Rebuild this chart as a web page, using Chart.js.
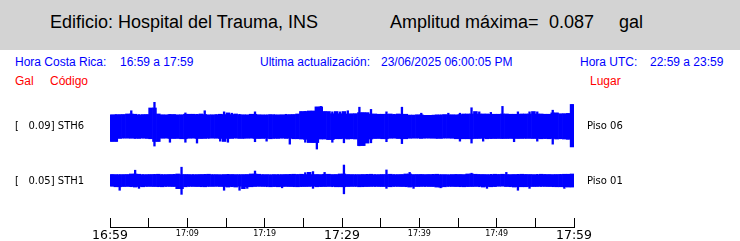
<!DOCTYPE html>
<html><head><meta charset="utf-8">
<script src="https://cdn.jsdelivr.net/npm/chart.js@4.4.0/dist/chart.umd.min.js"></script>
<style>
html,body{margin:0;padding:0;background:#fff;}
#wrap{position:relative;width:740px;height:241px;overflow:hidden;background:#fff;}
#hdr{position:absolute;left:0;top:0;width:740px;height:50px;background:#d3d3d3;}
.t{position:absolute;white-space:pre;font-family:'Liberation Sans',Arial,sans-serif;}
.big{font-size:18px;line-height:20px;top:12px;color:#000;}
.info{font-size:12px;line-height:14px;top:54.5px;color:#0000ff;}
.red{font-size:12px;line-height:14px;top:73.8px;color:#ff0000;}
.lab{position:absolute;white-space:pre;font-family:'DejaVu Sans',sans-serif;font-size:10px;line-height:12px;color:#000;}
canvas{position:absolute;left:0;top:0;}
</style></head>
<body>
<div id="wrap">
  <div id="hdr"></div>
  <span class="t big" style="left:50px">Edificio: Hospital del Trauma, INS</span>
  <span class="t big" style="left:390px">Amplitud máxima=</span>
  <span class="t big" style="left:549px">0.087</span>
  <span class="t big" style="left:619px">gal</span>
  <span class="t info" style="left:15px">Hora Costa Rica:</span>
  <span class="t info" style="left:120px">16:59 a 17:59</span>
  <span class="t info" style="left:260px">Ultima actualización:</span>
  <span class="t info" style="left:381px">23/06/2025 06:00:05 PM</span>
  <span class="t info" style="left:580px">Hora UTC:</span>
  <span class="t info" style="left:650px">22:59 a 23:59</span>
  <span class="t red" style="left:15px">Gal</span>
  <span class="t red" style="left:50px">Código</span>
  <span class="t red" style="left:590px">Lugar</span>
  <canvas id="c" width="740" height="241"></canvas>
  <div id="labels"></div>
</div>
<script>
// ---- data (amplitudes in gal, envelope per 0.5-minute bin) ----
const spanMinutes = 60;
const binMinutes = 0.5;
const tickLabels = ['16:59','17:09','17:19','17:29','17:39','17:49','17:59'];
const channels = ['STH6','STH1'];
const peaks = ['0.09','0.05'];
const places = ['Piso 06','Piso 01'];

const sth6Up = [
0.043,0.045,0.041,0.044,0.046,0.059,0.042,0.045,0.040,0.044,
0.068,0.090,0.046,0.043,0.041,0.045,0.044,0.040,0.043,0.051,
0.045,0.042,0.046,0.044,0.059,0.041,0.043,0.045,0.042,0.055,
0.044,0.050,0.042,0.046,0.043,0.041,0.045,0.055,0.043,0.040,
0.044,0.042,0.045,0.041,0.043,0.046,0.042,0.044,0.046,0.055,
0.057,0.055,0.057,0.072,0.075,0.055,0.046,0.055,0.047,0.055,
0.046,0.059,0.044,0.047,0.072,0.051,0.045,0.064,0.046,0.044,
0.045,0.055,0.043,0.046,0.044,0.072,0.045,0.042,0.041,0.043,
0.050,0.041,0.040,0.043,0.041,0.044,0.042,0.050,0.043,0.041,
0.050,0.044,0.046,0.070,0.045,0.055,0.046,0.044,0.053,0.045,
0.043,0.075,0.046,0.044,0.045,0.055,0.043,0.046,0.055,0.044,
0.055,0.046,0.043,0.045,0.061,0.050,0.045,0.047,0.048,0.081];
const sth6Down = [
0.055,0.055,0.042,0.044,0.040,0.043,0.045,0.041,0.044,0.042,
0.045,0.073,0.055,0.043,0.041,0.059,0.044,0.042,0.045,0.059,
0.043,0.041,0.062,0.044,0.042,0.045,0.041,0.043,0.055,0.044,
0.059,0.042,0.044,0.041,0.045,0.043,0.042,0.057,0.044,0.041,
0.055,0.043,0.045,0.042,0.044,0.041,0.066,0.043,0.045,0.046,
0.059,0.047,0.059,0.084,0.046,0.044,0.048,0.059,0.045,0.043,
0.061,0.044,0.046,0.045,0.072,0.070,0.046,0.061,0.044,0.043,
0.045,0.057,0.043,0.042,0.044,0.064,0.045,0.043,0.041,0.044,
0.042,0.044,0.041,0.043,0.045,0.042,0.044,0.041,0.043,0.045,
0.055,0.043,0.045,0.062,0.044,0.043,0.055,0.042,0.045,0.044,
0.043,0.045,0.044,0.042,0.057,0.044,0.043,0.045,0.042,0.044,
0.055,0.043,0.045,0.044,0.066,0.044,0.046,0.045,0.047,0.075];
const sth1Up = [
0.022,0.020,0.023,0.021,0.022,0.024,0.039,0.021,0.023,0.020,
0.022,0.024,0.021,0.023,0.020,0.022,0.024,0.021,0.050,0.022,
0.021,0.023,0.020,0.022,0.024,0.021,0.023,0.020,0.022,0.021,
0.024,0.022,0.020,0.023,0.021,0.022,0.024,0.036,0.021,0.023,
0.020,0.022,0.021,0.023,0.020,0.022,0.024,0.021,0.023,0.022,
0.030,0.021,0.034,0.022,0.020,0.031,0.023,0.021,0.022,0.024,
0.058,0.022,0.021,0.023,0.020,0.022,0.024,0.021,0.023,0.020,
0.022,0.040,0.021,0.023,0.020,0.022,0.024,0.031,0.021,0.022,
0.023,0.020,0.022,0.024,0.021,0.023,0.020,0.022,0.021,0.023,
0.022,0.020,0.024,0.028,0.021,0.023,0.022,0.020,0.024,0.021,
0.023,0.022,0.031,0.020,0.022,0.024,0.021,0.023,0.022,0.020,
0.024,0.021,0.023,0.022,0.020,0.022,0.024,0.021,0.023,0.024];
const sth1Down = [
0.021,0.023,0.037,0.022,0.020,0.024,0.022,0.030,0.021,0.023,
0.020,0.022,0.024,0.021,0.023,0.020,0.022,0.030,0.052,0.021,
0.023,0.020,0.022,0.024,0.021,0.023,0.020,0.022,0.021,0.037,
0.022,0.024,0.021,0.037,0.020,0.030,0.023,0.021,0.022,0.020,
0.024,0.021,0.023,0.022,0.028,0.020,0.022,0.024,0.021,0.023,
0.022,0.020,0.030,0.021,0.023,0.022,0.020,0.024,0.021,0.023,
0.050,0.022,0.020,0.023,0.021,0.024,0.022,0.020,0.023,0.021,
0.022,0.030,0.021,0.023,0.020,0.022,0.024,0.021,0.030,0.022,
0.020,0.023,0.021,0.022,0.024,0.028,0.021,0.023,0.020,0.022,
0.024,0.021,0.023,0.022,0.020,0.024,0.021,0.030,0.022,0.023,
0.021,0.020,0.022,0.024,0.021,0.037,0.023,0.020,0.030,0.022,
0.021,0.023,0.020,0.022,0.024,0.021,0.023,0.030,0.022,0.024];

// ---- layout of traces on the (hidden) amplitude axis ----
const yMax = 0.4844;
const baseSTH6 = 0.3688;
const baseSTH1 = 0.1706;

// full envelope per bin (drawn as thin spikes)
function band(up, down, base){
  return up.map((u,i)=>({x:(i+0.5)*binMinutes, y:[base-down[i], base+u]}));
}
// dense core: median envelope of neighbouring bins (drawn full width)
function core(up, down, base){
  const med = (a,i)=>{
    const v=[a[Math.max(0,i-1)], a[i], a[Math.min(a.length-1,i+1)]].sort((p,q)=>p-q);
    return v[1];
  };
  return up.map((u,i)=>({x:(i+0.5)*binMinutes, y:[base-med(down,i), base+med(up,i)]}));
}

// labels left / right
const lw = document.getElementById('labels');
const rowsTop = [120.4, 174.5];
channels.forEach((ch,k)=>{
  const a=document.createElement('span'); a.className='lab';
  a.style.left='15px'; a.style.top=rowsTop[k]+'px';
  a.textContent='[   '+peaks[k]+'] '+ch; lw.appendChild(a);
  const b=document.createElement('span'); b.className='lab';
  b.style.left='587px'; b.style.top=rowsTop[k]+'px';
  b.textContent=places[k]; lw.appendChild(b);
});

const blue = '#0000ff';
const spike = {backgroundColor:blue, borderWidth:0, grouped:false, barPercentage:0.6, categoryPercentage:1};
const solid = {backgroundColor:blue, borderWidth:0, grouped:false, barPercentage:1, categoryPercentage:1};
new Chart(document.getElementById('c'), {
  type:'bar',
  data:{datasets:[
    Object.assign({label:'STH6', data:band(sth6Up, sth6Down, baseSTH6)}, spike),
    Object.assign({label:'STH6 core', data:core(sth6Up, sth6Down, baseSTH6)}, solid),
    Object.assign({label:'STH1', data:band(sth1Up, sth1Down, baseSTH1)}, spike),
    Object.assign({label:'STH1 core', data:core(sth1Up, sth1Down, baseSTH1)}, solid)
  ]},
  options:{
    responsive:false, animation:false, devicePixelRatio:1,
    layout:{padding:{left:110,right:166,top:95,bottom:0}},
    plugins:{legend:{display:false}, tooltip:{enabled:false}, title:{display:false}},
    scales:{
      x:{type:'linear', min:0, max:spanMinutes, offset:false,
        grid:{display:true, drawOnChartArea:false, drawTicks:true, tickLength:-9, color:'#000', lineWidth:1, offset:false},
        border:{display:true, color:'#000', width:1},
        ticks:{stepSize:5, autoSkip:false, maxRotation:0, minRotation:0, padding:10, color:'#000',
          callback:(v)=> (v%10===0 ? tickLabels[v/10] : ''),
          font:(c)=> (c.tick && c.tick.value%30===0)
            ? {family:'DejaVu Sans', size:12.5, lineHeight:1.2}
            : {family:'DejaVu Sans', size:8, lineHeight:1.575}
        },
        afterFit:(s)=>{ s.height = 14; }
      },
      y:{display:false, min:0, max:yMax}
    }
  }
});
</script>
</body></html>
